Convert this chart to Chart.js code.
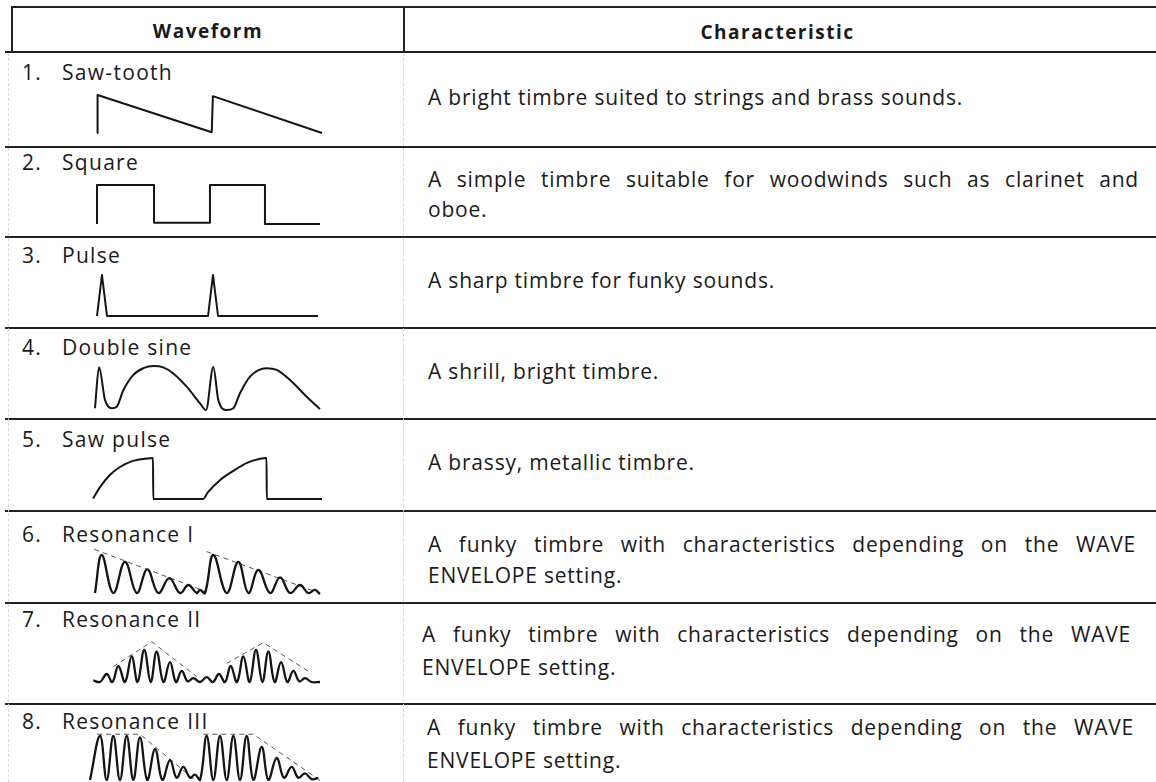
<!DOCTYPE html>
<html>
<head>
<meta charset="utf-8">
<script src="https://cdn.jsdelivr.net/npm/chart.js@4/dist/chart.umd.min.js"></script>
<style>
  html, body { margin: 0; padding: 0; background: #fff; }
  #page { position: relative; width: 1156px; height: 782px; overflow: hidden; font-family: "Open Sans", sans-serif; color: #1a1a1a; }
  .hline { position: absolute; height: 2px; background: #222; }
  .vline { position: absolute; width: 2px; background: #222; }
  .dots { position: absolute; width: 0; border-left: 1px dashed #dadada; }
  .txt { position: absolute; white-space: nowrap; font-size: 21px; line-height: 21px; letter-spacing: 0.8px; }
  .label { letter-spacing: 1.3px; }
  .head { font-weight: 700; font-size: 19px; letter-spacing: 1.5px; text-align: center; }
  .just { text-align: justify; text-align-last: justify; white-space: normal; }
  canvas { position: absolute; }
</style>
</head>
<body>
<div id="page"></div>
<script>
// ---- table text ----
const headers = ['Waveform', 'Characteristic'];
const waveNames = ['Saw-tooth', 'Square', 'Pulse', 'Double sine', 'Saw pulse', 'Resonance I', 'Resonance II', 'Resonance III'];
const characteristics = [
    ['A bright timbre suited to strings and brass sounds.'],
    ['A simple timbre suitable for woodwinds such as clarinet and', 'oboe.'],
    ['A sharp timbre for funky sounds.'],
    ['A shrill, bright timbre.'],
    ['A brassy, metallic timbre.'],
    ['A funky timbre with characteristics depending on the WAVE', 'ENVELOPE setting.'],
    ['A funky timbre with characteristics depending on the WAVE', 'ENVELOPE setting.'],
    ['A funky timbre with characteristics depending on the WAVE', 'ENVELOPE setting.']
];

// ---- waveform samples: t in periods (two periods shown), level 0 = low .. 1 = high ----
const sawT = [0, 0.005, 1.02, 1.03, 2.0];
const sawLevel = [0, 1, 0.02, 0.97, 0];

const squareT = [0, 0, 0.507, 0.507, 1.004, 1.004, 1.493, 1.493, 1.982];
const squareLevel = [0, 1, 1, 0.03, 0.03, 1, 1, 0, 0];

const pulseT = [0, 0.044, 0.089, 0.987, 1.031, 1.076, 1.964];
const pulseLevel = [0, 1, 0, 0, 1, 0, 0];

const dsineT = [-0.018, 0.018, 0.071, 0.131, 0.175, 0.234, 0.323, 0.412, 0.5, 0.589, 0.678, 0.797, 0.916, 0.969,
    1.034, 1.078, 1.153, 1.212, 1.271, 1.36, 1.508, 1.597, 1.716, 1.864, 1.982];
const dsineLevel = [0.04, 0.97, 0.23, 0.04, 0.075, 0.45, 0.8, 0.95, 1.0, 0.97, 0.83, 0.53, 0.15, 0,
    0.98, 0.23, 0, 0.04, 0.38, 0.76, 0.95, 0.91, 0.68, 0.3, 0.02];

const sawPulseT = [-0.036, 0.027, 0.116, 0.204, 0.32, 0.444, 0.498, 0.5, 0.942, 0.987, 1.093, 1.209, 1.333, 1.449, 1.507, 1.509, 2.0];
const sawPulseLevel = [0.01, 0.29, 0.59, 0.78, 0.93, 0.99, 1.0, 0, 0, 0.17, 0.46, 0.68, 0.88, 0.98, 1.0, 0, 0];

const res1T = [-0.018, 0.042, 0.145, 0.249, 0.353, 0.447, 0.545, 0.643, 0.738, 0.812, 0.886, 0.916, 0.96,
    1.034, 1.153, 1.256, 1.345, 1.434, 1.538, 1.627, 1.716, 1.804, 1.878, 1.938, 1.982];
const res1Level = [0, 1.0, 0, 0.82, 0, 0.62, 0, 0.39, 0, 0.21, 0, 0.08, 0,
    1.0, 0, 0.82, 0, 0.61, 0, 0.41, 0, 0.21, 0, 0.08, -0.03];
const res1EnvT = [-0.024, 0.975, null, 0.975, 1.982];
const res1EnvLevel = [1.15, 0.03, null, 1.09, -0.01];

const res2T = [-0.033, 0.027, 0.086, 0.136, 0.19, 0.249, 0.308, 0.361, 0.42, 0.477, 0.53, 0.59, 0.649, 0.702, 0.753, 0.806, 0.856, 0.916,
    0.975, 1.03, 1.084, 1.138, 1.188, 1.244, 1.301, 1.357, 1.413, 1.47, 1.523, 1.579, 1.636, 1.692, 1.745, 1.799, 1.849, 1.908, 1.982];
const res2Level = [0.05, 0, 0.25, 0, 0.5, 0, 0.8, 0, 1.0, 0, 0.95, 0, 0.62, 0, 0.35, 0.02, 0.12, 0,
    0.15, 0, 0.25, 0, 0.5, 0, 0.8, 0, 1.0, 0, 0.95, 0, 0.62, 0, 0.35, 0.02, 0.12, 0, 0];
const res2EnvT = [0.145, 0.486, 0.886, null, 1.153, 1.478, 1.908];
const res2EnvLevel = [0.48, 1.26, 0.17, null, 0.58, 1.23, 0.27];

const res3T = [-0.062, 0.027, 0.086, 0.145, 0.204, 0.264, 0.323, 0.382, 0.447, 0.516, 0.581, 0.649, 0.708, 0.767, 0.827, 0.871, 0.916,
    0.975, 1.034, 1.093, 1.153, 1.212, 1.271, 1.33, 1.39, 1.464, 1.523, 1.597, 1.662, 1.73, 1.79, 1.849, 1.908, 1.967];
const res3Level = [0, 1.0, 0, 1.0, 0, 1.0, 0, 0.97, 0, 0.7, 0, 0.45, 0.05, 0.3, 0.05, 0.12, 0,
    1.0, 0, 1.0, 0, 1.0, 0, 1.0, 0, 0.75, 0, 0.5, 0.05, 0.3, 0.05, 0.15, 0.02, 0.05];
const res3EnvT = [0.0, 0.382, 0.871, null, 0.945, 1.39, 1.982];
const res3EnvLevel = [1.04, 1.04, 0.0, null, 1.04, 1.04, -0.01];

// curve: 'line' = straight segments, 'mono' = monotone cubic, 'round' = rounded spline
const waves = [
    { t: sawT, v: sawLevel, curve: 'line' },
    { t: squareT, v: squareLevel, curve: 'line' },
    { t: pulseT, v: pulseLevel, curve: 'line' },
    { t: dsineT, v: dsineLevel, curve: 'mono' },
    { t: sawPulseT, v: sawPulseLevel, curve: 'mono' },
    { t: res1T, v: res1Level, curve: 'round', envT: res1EnvT, envV: res1EnvLevel },
    { t: res2T, v: res2Level, curve: 'round', envT: res2EnvT, envV: res2EnvLevel },
    { t: res3T, v: res3Level, curve: 'round', envT: res3EnvT, envV: res3EnvLevel }
];

// ---- layout (pixels) ----
const PAGE_H = 782;
const rowRules = [51, 146, 236, 327, 418, 510, 602, 703];   // rule under header, then under rows 1..7
const waveBox = [[95, 133], [185, 224], [275, 316], [366, 410], [458, 499], [555, 593], [650, 682], [736, 780]]; // [level 1, level 0]
const labelBase = [80, 170, 263, 355, 447, 542, 627, 729];
const textBase = [[105], [187, 217], [288], [379], [470], [552, 583], [642, 675], [735, 768]];
const textLeft = [428, 428, 428, 428, 428, 428, 422, 427];
const textRight = [1139, 1139, 1139, 1139, 1139, 1136, 1131, 1134];
const ORIGIN_X = 97, PX_PER_PERIOD = 112.5, WAVE_LEFT = 82, WAVE_RIGHT = 338;

const page = document.getElementById('page');

function addBox(cls, left, top, w, h) {
    const d = document.createElement('div');
    d.className = cls;
    d.style.left = left + 'px';
    d.style.top = top + 'px';
    if (w != null) d.style.width = w + 'px';
    if (h != null) d.style.height = h + 'px';
    page.appendChild(d);
}

// put a line of text so its baseline lands on `baseline`
function placeText(str, left, baseline, cls, width) {
    const d = document.createElement('div');
    d.className = 'txt' + (cls ? ' ' + cls : '');
    d.style.left = left + 'px';
    if (width) d.style.width = width + 'px';
    d.appendChild(document.createTextNode(str));
    const m = document.createElement('span');
    m.style.cssText = 'display:inline-block;width:0;height:0;vertical-align:baseline';
    d.appendChild(m);
    page.appendChild(d);
    d.style.top = (baseline - m.offsetTop) + 'px';
}

function toPoints(ts, vs) {
    return ts.map((t, k) => ({ x: t, y: vs[k] }));
}

function makeWave(i) {
    const w = waves[i];
    const top = rowRules[i] + 3;
    const bottom = (i < rowRules.length - 1 ? rowRules[i + 1] : PAGE_H) - 1;
    const [hi, lo] = waveBox[i];
    const span = lo - hi;

    const c = document.createElement('canvas');
    c.width = WAVE_RIGHT - WAVE_LEFT;
    c.height = bottom - top;
    c.style.left = WAVE_LEFT + 'px';
    c.style.top = top + 'px';
    page.appendChild(c);

    const datasets = [{
        data: toPoints(w.t, w.v),
        showLine: true,
        borderColor: '#141414',
        borderWidth: w.curve === 'round' ? 2.3 : 2,
        pointRadius: 0,
        tension: w.curve === 'round' ? 0.4 : 0,
        cubicInterpolationMode: w.curve === 'mono' ? 'monotone' : 'default',
        borderJoinStyle: 'round',
        clip: false
    }];
    if (w.envT) {
        datasets.push({
            data: toPoints(w.envT, w.envV),
            showLine: true,
            borderColor: '#555',
            borderWidth: 1,
            borderDash: [5, 4],
            pointRadius: 0,
            tension: 0,
            spanGaps: false,
            clip: false
        });
    }

    new Chart(c, {
        type: 'scatter',
        data: { datasets },
        options: {
            responsive: false,
            animation: false,
            events: [],
            layout: { padding: 0 },
            plugins: { legend: { display: false }, tooltip: { enabled: false } },
            scales: {
                x: { type: 'linear', display: false, min: (WAVE_LEFT - ORIGIN_X) / PX_PER_PERIOD, max: (WAVE_RIGHT - ORIGIN_X) / PX_PER_PERIOD },
                y: { type: 'linear', display: false, min: (lo - bottom) / span, max: (lo - top) / span }
            }
        }
    });
}

// rules
addBox('hline', 12, 6, 1144, 2);
rowRules.forEach(y => addBox('hline', 5, y, 1151, 2));
addBox('vline', 11, 6, null, 47);
addBox('vline', 403, 7, null, 46);
addBox('dots', 8, 53, null, PAGE_H - 53);
addBox('dots', 403, 53, null, PAGE_H - 53);

// header
placeText(headers[0], 12, 38, 'head', 392);
placeText(headers[1], 405, 39, 'head', 745);

// rows
waveNames.forEach((name, i) => {
    placeText((i + 1) + '.', 22, labelBase[i], 'label');
    placeText(name, 62, labelBase[i], 'label');
    const lines = characteristics[i];
    lines.forEach((ln, k) => {
        const justify = lines.length > 1 && k < lines.length - 1;
        placeText(ln, textLeft[i], textBase[i][k], justify ? 'just' : '', justify ? textRight[i] - textLeft[i] : null);
    });
    makeWave(i);
});
</script>
</body>
</html>
